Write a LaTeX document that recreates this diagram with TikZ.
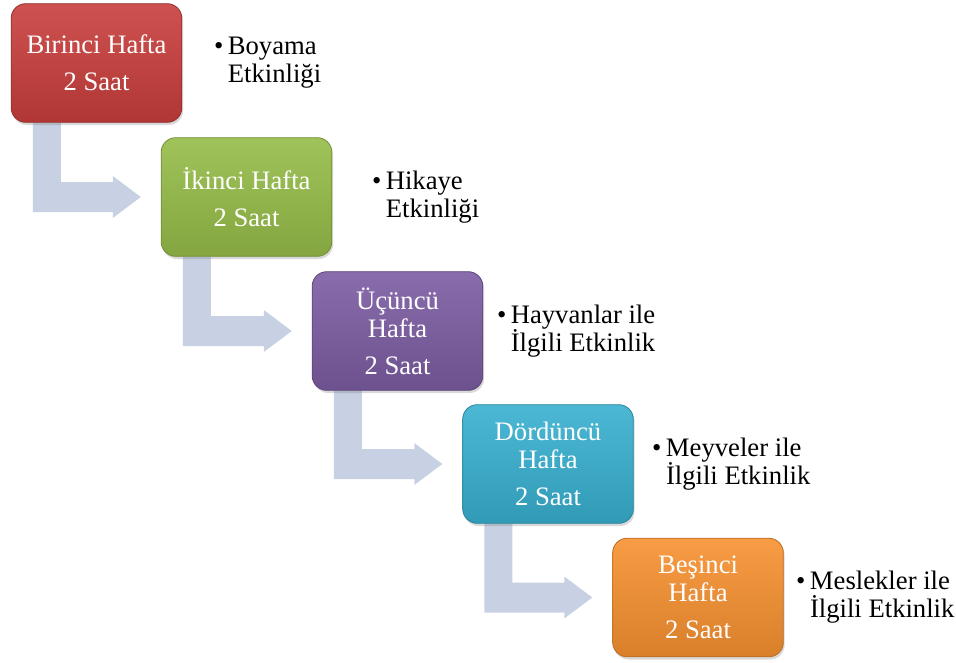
\documentclass[tikz,border=0pt]{standalone}
\usepackage{fontspec}
\setmainfont{Liberation Serif}
\usetikzlibrary{positioning, calc, shadows, backgrounds}
\definecolor{weekred}{RGB}{200,62,60}
\definecolor{weekgreen}{RGB}{150,188,72}
\definecolor{weekpurple}{RGB}{124,92,162}
\definecolor{weekcyan}{RGB}{56,176,208}
\definecolor{weekorange}{RGB}{247,145,48}
\definecolor{arrowblue}{RGB}{199,209,227}
\tikzset{
    weekbox/.style={rectangle, rounded corners=11pt, minimum width=128pt, minimum height=89pt, inner sep=0pt, align=center, text=white, font=\fontsize{20}{21}\selectfont, top color=#1!90!white, bottom color=#1!88!black, draw=#1!75!black, line width=0.6pt, drop shadow={opacity=0.3, shadow xshift=1pt, shadow yshift=-2pt}},
    activity/.style={align=left, inner sep=0pt, font=\fontsize{20}{21}\selectfont},
    steparrow/.style={fill=arrowblue, draw=none},
}

\begin{document}
\begin{tikzpicture}[x=0.75pt, y=-0.75pt]
\useasboundingbox (0,0) rectangle (956,662);

\node[weekbox=weekred] (week1) at (96.5,63) {Birinci Hafta\\[7pt]2 Saat};
\node[weekbox=weekgreen] (week2) at (246.5,197) {İkinci Hafta\\[7pt]2 Saat};
\node[weekbox=weekpurple] (week3) at (397.5,331) {Üçüncü\\Hafta\\[7pt]2 Saat};
\node[weekbox=weekcyan] (week4) at (548,464) {Dördüncü\\Hafta\\[7pt]2 Saat};
\node[weekbox=weekorange] (week5) at (698,597.5) {Beşinci\\Hafta\\[7pt]2 Saat};

\node[activity, right=34pt of week1] (act1) {\llap{•\,}Boyama\\Etkinliği};
\node[activity, right=40pt of week2] (act2) {\llap{•\,}Hikaye\\Etkinliği};
\node[activity, right=20.5pt of week3] (act3) {\llap{•\,}Hayvanlar ile\\İlgili Etkinlik};
\node[activity, right=24pt of week4] (act4) {\llap{•\,}Meyveler ile\\İlgili Etkinlik};
\node[activity, right=19.5pt of week5] (act5) {\llap{•\,}Meslekler ile\\İlgili Etkinlik};

\begin{scope}[on background layer]
\foreach \a/\b in {week1/week2, week2/week3, week3/week4, week4/week5}
    \fill[steparrow] ($(\a.south west)+(22,0)$) -- ($(\a.south west)+(50,0)$)
        -- ($(\a.west |- \b.west)+(50,-15)$) -- ($(\b.west)+(-48,-15)$)
        -- ($(\b.west)+(-48,-21)$) -- ($(\b.west)+(-20,0)$)
        -- ($(\b.west)+(-48,21)$) -- ($(\b.west)+(-48,15)$)
        -- ($(\a.west |- \b.west)+(22,15)$) -- cycle;
\end{scope}

\end{tikzpicture}
\end{document}
